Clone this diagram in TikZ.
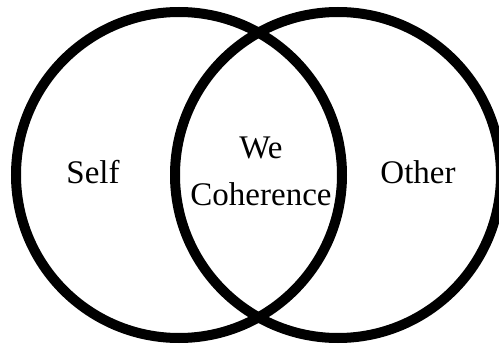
\documentclass[tikz,border=0pt]{standalone}
\usepackage{fontspec}
\setmainfont{Liberation Serif}
\begin{document}
\begin{tikzpicture}[x=1pt,y=-1pt,
  ring/.style={circle,draw=black,line width=10pt,minimum size=326pt,inner sep=0pt},
  lbl/.style={inner sep=0pt,font=\fontsize{33}{36}\selectfont}]
\useasboundingbox (0,0) rectangle (499,345);
\begin{scope}
\clip (0,0) rectangle (499,345);
\node[ring] (left) at (179,175) {};
\node[ring] (right) at (338,175) {};
\end{scope}
\node[lbl] (self) at (93,172) {Self};
\node[lbl] (other) at (418,172) {Other};
\node[lbl] (we) at (261,148) {We};
\node[lbl] (coh) at (261,194) {Coherence};
\end{tikzpicture}
\end{document}
